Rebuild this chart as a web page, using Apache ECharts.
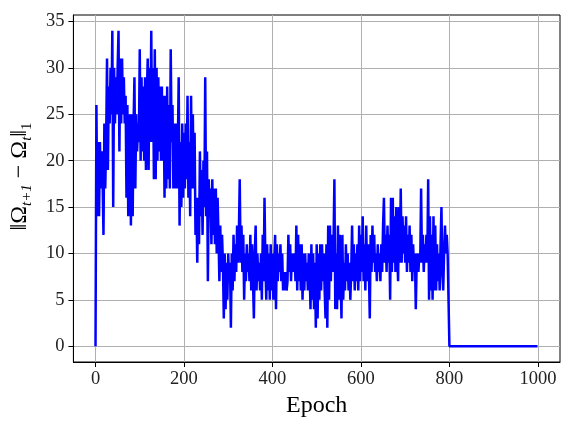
<!DOCTYPE html>
<html>
<head>
<meta charset="utf-8">
<script src="https://cdn.jsdelivr.net/npm/echarts@6/dist/echarts.min.js"></script>
<style>html,body{margin:0;padding:0;background:#fff}#c{width:574px;height:431px}</style>
</head>
<body>
<div id="c"></div>
<script>
// Values recorded every 2 epochs (epoch 0, 2, ..., 798)
const epochStep = 2;
const values = [
  0,26,14,22,14, 22,17,21,18,12, 24,17,22,31,19, 28,24,30,25,34,
  15,30,24,29,25, 30,34,21,31,24, 31,25,29,24,27, 16,26,14,22,25,
  13,25,14,24,29, 17,25,21,24,22, 32,20,29,21,28, 20,29,19,27,31,
  19,30,22,34,22, 30,18,32,18,30, 20,29,21,28,20, 28,20,27,16,27,
  17,28,18,26,17, 32,22,26,17,24, 17,24,17,21,29, 13,22,15,24,16,
  23,17,24,18,27, 16,22,14,27,17, 25,17,23,12,16, 9,16,11,21,14,
  19,12,20,15,29, 14,21,7,18,14, 17,11,18,12,17, 11,17,10,16,12,
  7,13,8,12,9, 3,10,4,9,5, 10,7,9,2,10, 6,12,7,11,8,
  13,9,12,18,9, 13,8,12,5,10, 7,11,8,10,7, 12,6,11,7,3,
  10,13,6,10,7, 9,6,10,5,12, 7,16,9,5,11, 6,10,5,11,6,
  10,5,9,12,4, 11,7,10,8,11, 7,10,6,8,6, 8,6,7,12,8,
  11,7,10,8,8, 10,7,13,6,12, 7,11,6,11,5, 10,6,10,7,9,
  6,10,8,4,11, 5,10,4,9,2, 11,3,10,5,11, 6,11,7,10,6,
  3,11,2,13,5, 13,7,12,8,11, 18,4,10,4,13, 5,12,8,3,12,
  5,9,6,11,7, 10,6,9,5,8, 13,7,11,6,10, 7,11,6,13,7,
  12,8,14,7,11, 6,13,7,11,8, 3,12,8,13,9, 12,8,10,7,11,
  8,10,7,11,8, 13,16,9,12,8, 13,9,12,5,16, 8,16,9,14,8,
  15,10,7,15,9, 17,9,14,10,13, 9,14,8,12,9, 13,8,12,7,11,
  8,10,4,9,10, 8,10,9,17,9, 12,8,11,9,12, 9,18,5,14,6,
  12,5,14,6,13, 6,11,7,10,6, 11,15,8,6,10, 13,10,12,10,10
];
// After epoch 800 the value stays at 0
const tailEpochs = [800, 999];
const tailValues = [0, 0];
const xTicks = [0, 200, 400, 600, 800, 1000];
const yTicks = [0, 5, 10, 15, 20, 25, 30, 35];

const data = values.map((v, i) => [i * epochStep, v]);
tailEpochs.forEach((e, i) => data.push([e, tailValues[i]]));

const FONT = '"Liberation Serif", "DejaVu Serif", serif';
const chart = echarts.init(document.getElementById('c'), null, {renderer: 'canvas'});
chart.setOption({
  animation: false,
  backgroundColor: '#fff',
  grid: {left: 73, right: 14, top: 15, bottom: 69, show: true, borderColor: '#000', borderWidth: 1, containLabel: false},
  xAxis: {
    type: 'value', min: -50, max: 1050,
    name: 'Epoch', nameLocation: 'middle', nameGap: 30,
    nameTextStyle: {fontFamily: FONT, fontSize: 24, color: '#000'},
    axisLine: {show: true, onZero: false, lineStyle: {color: '#000', width: 1}},
    axisTick: {show: true, inside: false, length: 5, customValues: xTicks, lineStyle: {color: '#000'}},
    axisLabel: {customValues: xTicks, formatter: v => String(v), fontFamily: FONT, fontSize: 18.5, color: '#222', margin: 8},
    splitLine: {show: true, lineStyle: {color: '#b0b0b0', width: 1}}
  },
  yAxis: {
    type: 'value', min: -1.7, max: 35.7,
    name: '{n|‖Ω}{s|t+1}{n| − Ω}{s|t}{n|‖}{u|1}', nameLocation: 'middle', nameGap: 31,
    nameTextStyle: {
      fontFamily: FONT, color: '#000', padding: [0, 0, 0, 24],
      rich: {
        n: {fontFamily: FONT, fontSize: 24, lineHeight: 30, color: '#000'},
        s: {fontFamily: FONT, fontSize: 15, lineHeight: 15, verticalAlign: 'bottom', fontStyle: 'italic', color: '#000'},
        u: {fontFamily: FONT, fontSize: 15, lineHeight: 15, verticalAlign: 'bottom', color: '#000'}
      }
    },
    axisLine: {show: true, onZero: false, lineStyle: {color: '#000', width: 1}},
    axisTick: {show: true, inside: false, length: 5, customValues: yTicks, lineStyle: {color: '#000'}},
    axisLabel: {customValues: yTicks, fontFamily: FONT, fontSize: 18.5, color: '#222', margin: 9},
    splitLine: {show: true, lineStyle: {color: '#b0b0b0', width: 1}}
  },
  series: [{
    type: 'line', data: data, showSymbol: false, symbol: 'none', sampling: null,
    lineStyle: {color: '#0000ff', width: 2.5}, itemStyle: {color: '#0000ff'}
  }]
});
</script>
</body>
</html>
